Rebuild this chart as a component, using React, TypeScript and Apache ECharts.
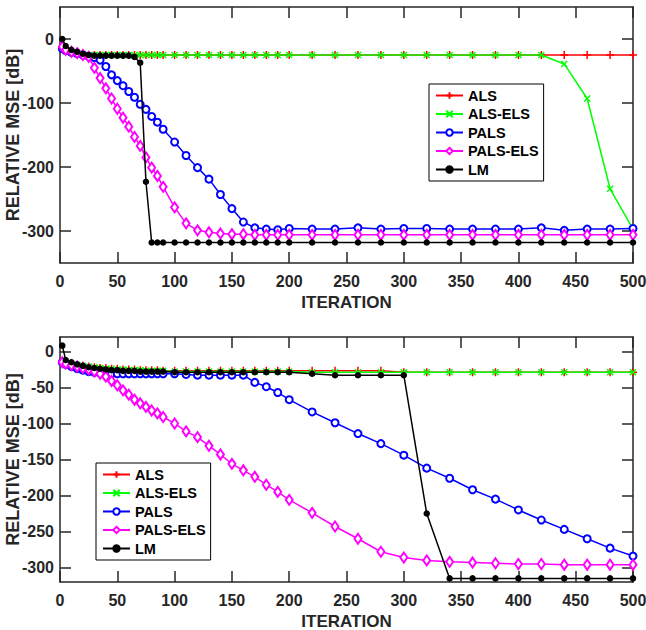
import React, { useEffect, useRef } from "react";
import * as echarts from "echarts";

// Iteration indices at which markers/values are sampled
const iterations = [
  2, 5, 10, 15, 20, 25, 30, 35, 40, 45, 50, 55, 60, 65, 70, 75, 80, 85, 90,
  100, 110, 120, 130, 140, 150, 160, 170, 180, 190, 200,
  220, 240, 260, 280, 300, 320, 340, 360, 380, 400, 420, 440, 460, 480, 500,
];

const seriesNames = ["ALS", "ALS-ELS", "PALS", "PALS-ELS", "LM"];

// ---- Top panel ----
const alsTop = [
  -15, -18, -21, -23, -24, -25, -25, -25, -25, -25, -25, -25, -25, -25, -25, -25, -25, -25, -25,
  -25, -25, -25, -25, -25, -25, -25, -25, -25, -25, -25,
  -25, -25, -25, -25, -25, -25, -25, -25, -25, -25, -25, -25, -25, -25, -25,
];
const alsElsTop = [
  -15, -18, -21, -23, -24, -25, -25, -25, -25, -25, -25, -25, -25, -25, -25, -25, -25, -25, -25,
  -25, -25, -25, -25, -25, -25, -25, -25, -25, -25, -25,
  -25, -25, -25, -25, -25, -25, -25, -25, -25, -25, -25, -39, -93, -234, -297,
];
const palsTop = [
  -15, -18, -21, -23, -25, -27, -29, -33, -43, -56, -65, -73, -82, -91, -102, -110, -121, -130, -141,
  -161, -182, -201, -219, -243, -265, -286, -295, -297, -298, -296,
  -297, -297, -295, -297, -296, -296, -297, -297, -297, -297, -295, -299, -297, -297, -296,
];
const palsElsTop = [
  -12, -17, -20, -22, -25, -28, -45, -61, -77, -93, -109, -123, -137, -153, -167, -185, -201, -214, -231,
  -263, -288, -299, -302, -304, -305, -305, -306, -306, -306, -306,
  -306, -306, -306, -306, -306, -306, -306, -306, -306, -306, -306, -306, -306, -306, -306,
];
const lmTop = [
  0, -11, -17, -20, -23, -25, -26, -26, -26, -26, -26, -26, -26, -28, -37, -223, -318, -318, -318,
  -318, -318, -318, -318, -318, -318, -318, -318, -318, -318, -318,
  -318, -318, -318, -318, -318, -318, -318, -318, -318, -318, -318, -318, -318, -318, -318,
];

// ---- Bottom panel ----
const alsBot = [
  -15, -16, -18, -19, -20, -21, -22, -23, -23, -24, -24, -25, -25, -25, -26, -26, -26, -26, -27,
  -27, -27, -27, -27, -27, -27, -27, -27, -27, -27, -27,
  -27, -27, -27, -27, -29, -29, -29, -29, -29, -29, -29, -29, -29, -29, -29,
];
const alsElsBot = [
  -15, -16, -18, -19, -20, -21, -22, -23, -24, -24, -25, -25, -26, -26, -26, -27, -27, -27, -27,
  -28, -28, -28, -28, -28, -28, -28, -28, -28, -28, -28,
  -29, -29, -29, -29, -29, -29, -29, -29, -29, -29, -29, -29, -29, -29, -29,
];
const palsBot = [
  -15, -18, -21, -24, -26, -28, -29, -30, -31, -31, -31, -31, -31, -31, -31, -31, -31, -31, -31,
  -31, -32, -33, -33, -33, -33, -33, -43, -49, -57, -67,
  -84, -99, -114, -128, -144, -162, -176, -192, -205, -220, -234, -247, -260, -273, -284,
];
const palsElsBot = [
  -15, -17, -19, -21, -23, -25, -28, -31, -35, -41, -47, -54, -60, -67, -72, -77, -82, -86, -91,
  -100, -111, -119, -131, -143, -156, -165, -174, -185, -195, -206,
  -224, -243, -260, -278, -286, -290, -292, -293, -294, -295, -295, -296, -296, -296, -296,
];
const lmBot = [
  8, -12, -15, -18, -20, -22, -23, -24, -25, -26, -26, -27, -27, -27, -28, -28, -28, -28, -28,
  -29, -29, -29, -29, -29, -29, -29, -29, -29, -29, -29,
  -31, -33, -33, -33, -33, -225, -315, -315, -315, -315, -315, -315, -315, -315, -315,
];

const xTicks = [0, 50, 100, 150, 200, 250, 300, 350, 400, 450, 500];
const yTicksTop = [0, -100, -200, -300];
const yTicksBot = [0, -50, -100, -150, -200, -250, -300];

const FONT = "'Liberation Sans', Arial, Helvetica, sans-serif";
const AXIS_COLOR = "#262626";

const styles = [
  { color: "#ff0000", symbol: "path://M5 0 L5 10 M0 5 L10 5", size: 8 },
  { color: "#00ff00", symbol: "path://M0 0 L10 10 M10 0 L0 10", size: 6 },
  { color: "#0000ff", symbol: "emptyCircle", size: 7 },
  { color: "#ff00ff", symbol: "emptyDiamond", size: [7, 10] },
  { color: "#000000", symbol: "circle", size: 5 },
];

function makeSeries(values: number[][], axisIndex: number) {
  return values.map((vals, k) => {
    const st = styles[k];
    return {
      name: seriesNames[k],
      type: "line",
      xAxisIndex: axisIndex,
      yAxisIndex: axisIndex,
      data: iterations.map((x, i) => [x, vals[i]]),
      symbol: st.symbol,
      symbolSize: st.size,
      showAllSymbol: true,
      lineStyle: { color: st.color, width: 1.5 },
      itemStyle: { color: st.color, borderColor: st.color, borderWidth: 1.5 },
      emphasis: { disabled: true },
      z: 2 + k,
    };
  });
}

function xAxes(gridIndex: number) {
  const common = {
    gridIndex,
    type: "value",
    min: 0,
    max: 500,
    interval: 50,
    splitLine: { show: false },
    axisLine: { show: true, onZero: false, lineStyle: { color: AXIS_COLOR, width: 1.5 } },
    axisTick: { show: true, inside: true, length: 11, lineStyle: { color: AXIS_COLOR, width: 1.5 } },
  };
  return [
    {
      ...common,
      position: "bottom",
      name: "ITERATION",
      nameLocation: "middle",
      nameGap: 31,
      nameMoveOverlap: false,
      nameTextStyle: { fontSize: 17, fontWeight: "bold", color: AXIS_COLOR, fontFamily: FONT },
      axisLabel: {
        customValues: xTicks,
        fontSize: 16,
        fontWeight: "bold",
        color: AXIS_COLOR,
        fontFamily: FONT,
        margin: 10,
      },
    },
    { ...common, position: "top", axisLabel: { show: false } },
  ];
}

function yAxes(gridIndex: number, min: number, max: number, ticks: number[]) {
  const common = {
    gridIndex,
    type: "value",
    min,
    max,
    splitLine: { show: false },
    axisLine: { show: true, onZero: false, lineStyle: { color: AXIS_COLOR, width: 1.5 } },
    axisTick: {
      show: true,
      inside: true,
      length: 11,
      customValues: ticks,
      lineStyle: { color: AXIS_COLOR, width: 1.5 },
    },
  };
  return [
    {
      ...common,
      position: "left",
      name: "RELATIVE MSE [dB]",
      nameLocation: "middle",
      nameGap: 38,
      nameMoveOverlap: false,
      nameTextStyle: { fontSize: 18, fontWeight: "bold", color: AXIS_COLOR, fontFamily: FONT },
      axisLabel: {
        customValues: ticks,
        fontSize: 16,
        fontWeight: "bold",
        color: AXIS_COLOR,
        fontFamily: FONT,
        margin: 6,
      },
    },
    { ...common, position: "right", axisLabel: { show: false } },
  ];
}

function legend(left: number, top: number) {
  return {
    left,
    top,
    orient: "vertical",
    data: seriesNames,
    itemWidth: 27,
    itemHeight: 8,
    itemGap: 3.5,
    padding: [4, 5, 4, 6],
    borderColor: "#000",
    borderWidth: 1,
    borderRadius: 0,
    backgroundColor: "#fff",
    selectedMode: false,
    textStyle: { fontSize: 14.5, fontWeight: "bold", color: "#000", fontFamily: FONT },
  };
}

export default function App() {
  const ref = useRef<HTMLDivElement>(null);
  useEffect(() => {
    document.body.style.margin = "0";
    const chart = echarts.init(ref.current!, null, { renderer: "svg" });
    chart.setOption({
      animation: false,
      backgroundColor: "#fff",
      grid: [
        { left: 60, top: 7, width: 573, height: 256, outerBoundsMode: "none", containLabel: false },
        { left: 60, top: 337, width: 573, height: 245, outerBoundsMode: "none", containLabel: false },
      ],
      xAxis: [...xAxes(0), ...xAxes(1)],
      yAxis: [...yAxes(0, -350, 50, yTicksTop), ...yAxes(1, -320, 20, yTicksBot)],
      legend: [legend(429, 84), legend(96, 463)],
      series: [
        ...makeSeries([alsTop, alsElsTop, palsTop, palsElsTop, lmTop], 0),
        ...makeSeries([alsBot, alsElsBot, palsBot, palsElsBot, lmBot], 2),
      ],
    });
    return () => chart.dispose();
  }, []);
  return <div ref={ref} style={{ width: 646, height: 630 }} />;
}
